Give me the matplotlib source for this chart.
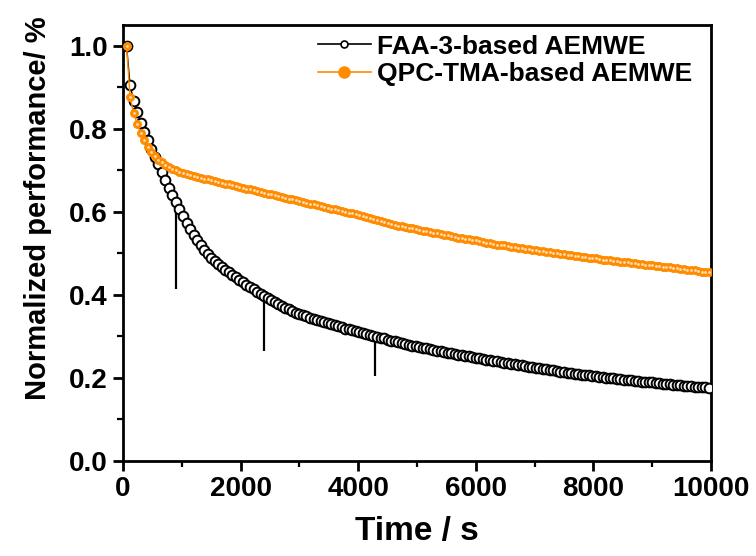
import numpy as np
import matplotlib
matplotlib.use("Agg")
import matplotlib.pyplot as plt
from matplotlib.ticker import MultipleLocator, FormatStrFormatter
from matplotlib.lines import Line2D

plt.rcParams['font.family'] = ['Liberation Sans', 'DejaVu Sans']
plt.rcParams['font.weight'] = 'bold'

# sampling interval of the stability test (s)
step = 60

# normalized performance, one value every 60 s starting at 60 s
faa = [1.000, 0.905, 0.868, 0.840, 0.815, 0.792, 0.772, 0.752, 0.733, 0.714,
       0.695, 0.676, 0.658, 0.640, 0.623, 0.606, 0.590, 0.574, 0.559, 0.545,
       0.532, 0.520, 0.509, 0.499, 0.490, 0.482, 0.474, 0.467, 0.460, 0.454,
       0.448, 0.442, 0.436, 0.430, 0.424, 0.418, 0.413, 0.407, 0.402, 0.397,
       0.392, 0.387, 0.382, 0.378, 0.373, 0.369, 0.365, 0.361, 0.357, 0.354,
       0.351, 0.348, 0.345, 0.342, 0.340, 0.337, 0.334, 0.332, 0.329, 0.327,
       0.324, 0.322, 0.319, 0.317, 0.315, 0.312, 0.310, 0.308, 0.305, 0.303,
       0.301, 0.299, 0.297, 0.295, 0.292, 0.290, 0.288, 0.286, 0.284, 0.282,
       0.280, 0.278, 0.276, 0.275, 0.273, 0.271, 0.269, 0.268, 0.266, 0.264,
       0.263, 0.261, 0.260, 0.258, 0.256, 0.255, 0.253, 0.252, 0.250, 0.249,
       0.247, 0.246, 0.244, 0.243, 0.241, 0.240, 0.238, 0.237, 0.236, 0.234,
       0.233, 0.231, 0.230, 0.229, 0.227, 0.226, 0.225, 0.223, 0.222, 0.221,
       0.219, 0.218, 0.217, 0.215, 0.214, 0.213, 0.212, 0.210, 0.209, 0.208,
       0.207, 0.206, 0.205, 0.204, 0.203, 0.202, 0.201, 0.200, 0.199, 0.198,
       0.197, 0.196, 0.195, 0.194, 0.193, 0.192, 0.191, 0.190, 0.190, 0.189,
       0.188, 0.187, 0.186, 0.185, 0.185, 0.184, 0.183, 0.182, 0.181, 0.181,
       0.180, 0.179, 0.178, 0.177, 0.177, 0.176]

qpc = [1.000, 0.877, 0.838, 0.812, 0.790, 0.772, 0.757, 0.744, 0.734, 0.726,
       0.719, 0.713, 0.708, 0.704, 0.700, 0.697, 0.694, 0.691, 0.688, 0.686,
       0.684, 0.682, 0.680, 0.678, 0.676, 0.674, 0.672, 0.670, 0.668, 0.666,
       0.664, 0.662, 0.660, 0.658, 0.656, 0.654, 0.652, 0.650, 0.648, 0.646,
       0.644, 0.642, 0.640, 0.638, 0.636, 0.634, 0.632, 0.630, 0.628, 0.626,
       0.624, 0.622, 0.620, 0.618, 0.616, 0.614, 0.612, 0.610, 0.608, 0.606,
       0.604, 0.602, 0.600, 0.598, 0.596, 0.594, 0.592, 0.590, 0.588, 0.585,
       0.583, 0.580, 0.578, 0.576, 0.574, 0.571, 0.569, 0.567, 0.565, 0.564,
       0.562, 0.560, 0.558, 0.557, 0.555, 0.553, 0.552, 0.550, 0.548, 0.547,
       0.545, 0.543, 0.542, 0.540, 0.538, 0.537, 0.535, 0.534, 0.532, 0.531,
       0.529, 0.527, 0.526, 0.524, 0.523, 0.521, 0.520, 0.519, 0.517, 0.516,
       0.515, 0.513, 0.512, 0.511, 0.510, 0.508, 0.507, 0.506, 0.505, 0.504,
       0.503, 0.501, 0.500, 0.499, 0.498, 0.497, 0.495, 0.494, 0.493, 0.492,
       0.491, 0.490, 0.489, 0.488, 0.486, 0.485, 0.484, 0.483, 0.482, 0.481,
       0.480, 0.479, 0.478, 0.477, 0.476, 0.475, 0.474, 0.473, 0.472, 0.471,
       0.470, 0.469, 0.468, 0.467, 0.466, 0.465, 0.464, 0.463, 0.462, 0.461,
       0.460, 0.459, 0.458, 0.456, 0.455, 0.454]

# vertical marker lines drawn under the FAA curve
mark_t = [900, 2400, 4290]
mark_top = [0.617, 0.382, 0.288]
mark_bot = [0.415, 0.265, 0.204]

t_faa = step * np.arange(1, len(faa) + 1)
t_qpc = step * np.arange(1, len(qpc) + 1)

orange = '#FF8C00'

fig = plt.figure(figsize=(7.56, 5.56), dpi=100)
ax = fig.add_axes([0.1627, 0.1709, 0.7778, 0.7842])

ax.plot(t_faa, faa, '-o', color='black', lw=1, ms=7, mfc='white',
        mec='black', mew=1.4, zorder=3)
ax.plot(t_qpc, qpc, '-o', color=orange, lw=1, ms=5.6, mfc=orange,
        mec=orange, mew=0.8, zorder=4)
ax.plot(t_qpc, qpc, 'o', color='#FFDDB8', ms=2.0, mew=0, zorder=5)
ax.vlines(mark_t, mark_bot, mark_top, color='black', lw=1.6, zorder=2)

ax.set_xlim(0, 10000)
ax.set_ylim(0, 1.05)
ax.xaxis.set_major_locator(MultipleLocator(2000))
ax.xaxis.set_minor_locator(MultipleLocator(1000))
ax.yaxis.set_major_locator(MultipleLocator(0.2))
ax.yaxis.set_minor_locator(MultipleLocator(0.1))
ax.yaxis.set_major_formatter(FormatStrFormatter('%.1f'))

for s in ax.spines.values():
    s.set_linewidth(2)
ax.tick_params(which='major', direction='out', length=7, width=2,
               labelsize=20, pad=4)
ax.tick_params(which='minor', direction='out', length=4, width=1.6)

ax.set_xlabel('Time / s', fontsize=24, fontweight='bold', labelpad=10)
ax.set_ylabel('Normalized performance/ %', fontsize=21, fontweight='bold')
ax.yaxis.set_label_coords(-0.12, 0.58)

handles = [
    Line2D([], [], color='black', lw=1.2, marker='o', ms=5, mfc='white',
           mec='black', mew=1.2),
    Line2D([], [], color=orange, lw=1.2, marker='o', ms=8, mfc=orange,
           mec=orange),
]
ax.legend(handles, ['FAA-3-based AEMWE', 'QPC-TMA-based AEMWE'],
          loc='upper left', bbox_to_anchor=(0.30, 1.02), frameon=False,
          fontsize=19, handlelength=2.0, handletextpad=0.25,
          labelspacing=0.12, borderaxespad=0.3)

fig.savefig('out.png', dpi=100)
